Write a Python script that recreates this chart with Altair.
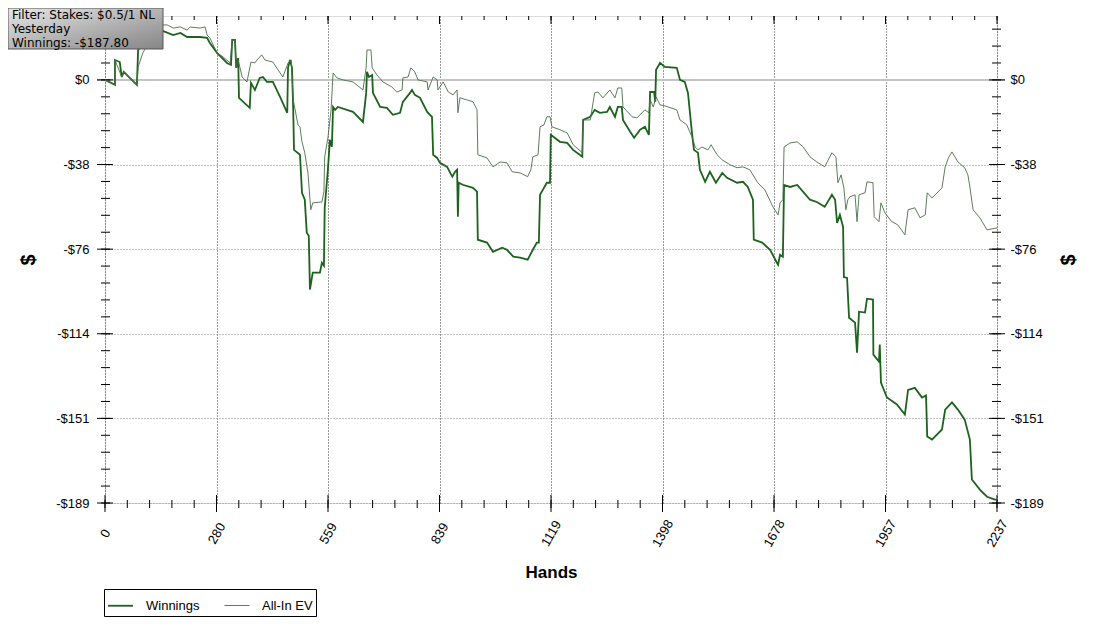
import altair as alt
import pandas as pd

# ---------------- data ----------------
series_names = ["Winnings", "All-In EV"]

win_hands = [0, 25, 25, 37, 42, 47, 80, 83, 93, 108, 138, 151, 171, 189, 206, 238, 256, 263, 281, 306,
             316, 319, 326, 329, 334, 336, 363, 366, 376, 388, 396, 406, 421, 439, 457, 459, 464, 469, 472, 474,
             489, 494, 501, 506, 511, 514, 521, 539, 544, 549, 551, 559, 564, 569, 572, 577, 584, 622, 647, 655,
             657, 662, 670, 672, 690, 707, 722, 740, 747, 765, 770, 777, 790, 808, 820, 823, 833, 840, 858, 871,
             878, 883, 885, 887, 897, 923, 933, 935, 958, 973, 996, 1008, 1024, 1041, 1060, 1073, 1083, 1088, 1091, 1098,
             1108, 1116, 1118, 1141, 1159, 1174, 1197, 1199, 1217, 1228, 1241, 1259, 1266, 1279, 1286, 1296, 1299, 1317, 1327, 1342,
             1354, 1364, 1367, 1377, 1380, 1382, 1392, 1404, 1434, 1442, 1454, 1462, 1472, 1477, 1487, 1492, 1505, 1517, 1532, 1548,
             1560, 1585, 1600, 1612, 1625, 1627, 1648, 1668, 1685, 1688, 1693, 1700, 1703, 1718, 1736, 1751, 1768, 1785, 1805, 1823,
             1831, 1836, 1843, 1851, 1853, 1861, 1866, 1881, 1886, 1891, 1906, 1911, 1926, 1927, 1941, 1943, 1946, 1961, 1986, 2006,
             2014, 2031, 2049, 2059, 2062, 2074, 2099, 2107, 2124, 2139, 2156, 2169, 2174, 2194, 2212, 2232, 2237]
win_values = [0, -2.2, 8.9, 8.0, 1.3, 3.6, -2.2, 13.4, 15.6, 20.1, 22.3, 21.5, 20.1, 21.0, 19.2, 19.2, 18.8, 16.5, 12.1, 7.6,
              6.7, 17.9, 17.9, 5.4, 9.8, -8.0, -12.5, -1.3, -4.5, 0.9, 1.3, -0.9, -0.9, -7.6, -14.7, 5.4, 8.9, 5.4, -13.4, -31.3,
              -33.5, -50.5, -53.6, -68.4, -69.7, -93.8, -86.2, -86.2, -81.8, -83.1, -57.2, -40.2, -26.8, -29.9, -12.1, -13.4, -12.1, -14.3, -18.8, -5.8,
              3.6, 1.3, 2.2, -5.8, -12.1, -12.5, -15.6, -14.7, -9.8, -5.8, -4.5, -6.7, -8.0, -14.3, -16.5, -33.5, -34.9, -37.1, -38.9, -43.3,
              -41.1, -40.2, -61.2, -46.0, -46.9, -48.3, -50.0, -71.5, -72.8, -76.9, -75.1, -76.0, -79.1, -79.5, -80.4, -76.0, -72.8, -72.8, -51.4, -49.2,
              -46.0, -46.0, -24.6, -27.7, -28.2, -31.3, -34.4, -17.9, -16.5, -13.4, -14.7, -14.3, -12.1, -16.5, -12.1, -12.1, -17.9, -23.2, -25.9, -22.3,
              -21.0, -24.6, -5.4, -5.4, -9.8, 4.5, 7.6, 5.8, 5.4, 0.0, -0.9, -5.8, -23.7, -31.3, -32.6, -40.2, -45.6, -41.1, -46.0, -41.6,
              -43.8, -46.0, -45.6, -47.9, -53.6, -71.5, -72.8, -76.0, -81.8, -82.7, -78.2, -79.1, -47.0, -47.9, -47.0, -50.1, -53.6, -54.6, -56.8, -51.4,
              -53.6, -64.0, -60.4, -65.8, -88.2, -88.6, -106.4, -108.6, -122.0, -103.7, -104.1, -97.9, -98.3, -122.9, -126.0, -118.4, -135.4, -142.1, -145.2, -149.7,
              -138.7, -137.8, -142.1, -141.2, -159.5, -160.9, -156.4, -147.5, -144.3, -147.5, -152.0, -160.9, -178.8, -183.3, -186.5, -187.8, -187.8]

ev_hands = [0, 25, 25, 42, 47, 80, 83, 95, 113, 131, 146, 156, 171, 189, 206, 213, 238, 251, 256, 263,
            281, 296, 314, 319, 326, 329, 334, 344, 356, 366, 376, 381, 393, 401, 421, 434, 446, 459, 467, 472,
            484, 489, 494, 501, 509, 516, 521, 544, 549, 551, 559, 567, 572, 582, 597, 622, 647, 655, 657, 667,
            670, 682, 697, 719, 732, 745, 747, 760, 767, 777, 785, 808, 810, 823, 833, 835, 848, 861, 873, 883,
            885, 890, 907, 923, 933, 935, 958, 973, 991, 1008, 1021, 1041, 1060, 1068, 1073, 1086, 1091, 1101, 1108, 1116,
            1121, 1141, 1159, 1174, 1197, 1199, 1217, 1228, 1236, 1249, 1266, 1279, 1286, 1296, 1299, 1322, 1334, 1354, 1364, 1367,
            1375, 1382, 1392, 1404, 1434, 1442, 1459, 1472, 1480, 1487, 1497, 1512, 1520, 1535, 1548, 1568, 1585, 1600, 1617, 1637,
            1655, 1675, 1688, 1693, 1700, 1703, 1718, 1736, 1751, 1768, 1785, 1805, 1823, 1833, 1838, 1846, 1853, 1858, 1863, 1868,
            1881, 1886, 1891, 1906, 1911, 1926, 1929, 1941, 1946, 1956, 1973, 1988, 2006, 2014, 2031, 2044, 2057, 2062, 2074, 2087,
            2099, 2107, 2115, 2124, 2139, 2156, 2164, 2169, 2177, 2194, 2212, 2237]
ev_values = [0, -2.2, 8.9, 1.3, 3.6, -2.2, 5.8, 12.1, 17.9, 22.3, 24.6, 24.6, 23.2, 23.7, 22.3, 23.7, 23.2, 23.7, 20.1, 18.8,
             12.1, 10.3, 7.6, 17.9, 17.9, 5.8, 8.9, 1.3, -0.9, 8.0, 7.6, 8.9, 11.2, 8.9, 8.0, 4.5, 1.3, 7.6, 8.9, -8.9,
             -20.1, -21.0, -27.7, -32.6, -41.6, -58.1, -55.0, -54.6, -50.1, -34.4, -25.9, -13.4, 3.1, 0.9, 0.0, -0.9, -4.5, 5.8, 13.4, 13.4,
             5.4, 2.2, -0.9, -3.1, -5.4, -4.5, 0.9, 1.3, 5.4, 3.6, 0.0, -0.9, -4.5, 1.3, 0.0, -4.5, -0.9, -5.4, -6.7, -4.5,
             -14.7, -8.0, -8.9, -9.8, -13.4, -33.5, -34.9, -38.9, -36.7, -37.1, -41.1, -41.6, -43.3, -40.2, -34.4, -33.5, -21.0, -20.1, -16.5, -16.5,
             -21.0, -22.3, -23.7, -29.0, -32.6, -17.9, -17.9, -5.8, -5.4, -8.0, -4.5, -8.0, -3.6, -3.6, -12.1, -16.5, -17.0, -13.4, -14.7, -8.9,
             -12.1, -7.6, -11.2, -11.6, -13.4, -17.9, -20.1, -25.5, -30.0, -31.3, -30.0, -31.3, -29.0, -33.5, -35.8, -38.0, -39.3, -38.9, -40.2, -46.0,
             -49.2, -56.8, -60.4, -55.0, -53.6, -30.0, -28.2, -27.7, -30.0, -34.4, -36.7, -38.9, -32.6, -34.4, -46.0, -42.5, -48.3, -58.1, -53.6, -52.3,
             -51.4, -63.4, -51.4, -50.5, -45.6, -46.0, -61.2, -63.4, -55.0, -59.5, -63.4, -64.8, -69.3, -58.1, -57.2, -61.7, -60.4, -50.5, -52.8, -50.5,
             -48.3, -38.9, -34.9, -32.2, -36.7, -39.3, -42.5, -47.9, -58.1, -61.7, -67.1, -66.2]

x_max = 2237
y_min, y_max = -189.3, 28.6
y_step = 37.86
x_major = [x_max * k / 8 for k in range(9)]
x_minor = [x_max * k / 40 for k in range(41)]
y_major = [y_min + y_step * k for k in range(6)]
y_minor = [y_min + y_step / 5 * k for k in range(29)]

box_lines = ["Filter: Stakes: $0.5/1 NL", "Yesterday", "Winnings: -$187.80"]

# ---------------- build tables ----------------
rows = []
for name, hs, vs in [(series_names[0], win_hands, win_values), (series_names[1], ev_hands, ev_values)]:
    for i, (h, v) in enumerate(zip(hs, vs)):
        rows.append({"hand": h, "value": v, "series": name, "i": i})
df = pd.DataFrame(rows)

W, H = 892, 487
FONT = "Liberation Sans"
xscale = alt.Scale(domain=[0, x_max], nice=False, zero=False)
yscale = alt.Scale(domain=[y_min, y_max], nice=False, zero=False)
label_expr = "datum.value > -1 ? '$0' : '-$' + format(-datum.value, '.0f')"

x_axis = alt.Axis(values=x_major, format="d", grid=True, gridDash=[1, 2], gridColor="#333333",
                  ticks=False, tickSize=0, domain=False, labelAngle=-60, labelAlign="center",
                  labelBaseline="middle", labelPadding=30, labelFlush=False, labelOverlap=False,
                  labelFont=FONT, labelFontSize=13, labelColor="black",
                  title="Hands", titleFont=FONT, titleFontSize=17, titleFontWeight="bold",
                  titleColor="black", titleY=69, titleBaseline="middle")
y_axis = alt.Axis(values=y_major, labelExpr=label_expr, grid=True, gridDash=[1, 2], gridColor="#8a8a8a",
                  ticks=False, tickSize=0, domain=False, labelPadding=16, labelFlush=False,
                  labelOverlap=False, labelFont=FONT, labelFontSize=13, labelColor="black",
                  title="$", titleFont=FONT, titleFontSize=20, titleFontWeight="bold", titleColor="black",
                  titleAngle=-90, titleX=-77, titleY=H / 2, titleBaseline="middle", titleAlign="center")
y_axis_r = alt.Axis(values=y_major, labelExpr=label_expr, grid=False, orient="right",
                    ticks=False, tickSize=0, domain=False, labelPadding=13, labelFlush=False,
                    labelOverlap=False, labelFont=FONT, labelFontSize=13, labelColor="black",
                    title="$", titleFont=FONT, titleFontSize=20, titleFontWeight="bold", titleColor="black",
                    titleAngle=-90, titleX=71, titleY=H / 2, titleBaseline="middle", titleAlign="center")

# zero line
zero = alt.Chart(pd.DataFrame({"value": [0.0]})).mark_rule(color="#c4c4c4", strokeWidth=2).encode(
    y=alt.Y("value:Q", scale=yscale, axis=y_axis), x=alt.value(-8), x2=alt.value(W + 8))


def ytick(vals, x0, x1):
    return alt.Chart(pd.DataFrame({"value": vals})).mark_rule(color="black", strokeWidth=1).encode(
        y=alt.Y("value:Q", scale=yscale, axis=y_axis), x=alt.value(x0), x2=alt.value(x1))


def xtick(vals, y0, y1):
    return alt.Chart(pd.DataFrame({"hand": vals})).mark_rule(color="black", strokeWidth=1).encode(
        x=alt.X("hand:Q", scale=xscale, axis=x_axis), y=alt.value(y0), y2=alt.value(y1))


ticks = [
    ytick(y_minor, -4, 5), ytick(y_major, -8, 8),
    ytick(y_minor, W - 5, W + 4), ytick(y_major, W - 8, W + 8),
    xtick(x_minor, H - 3, H + 5), xtick(x_major, H - 8, H + 9),
    xtick(x_minor, 0, 4), xtick(x_major, 0, 8),
]

legend = alt.Legend(orient="none", legendX=-1, legendY=573, direction="horizontal", title=None,
                    symbolType="stroke", symbolSize=625, labelFont=FONT, labelFontSize=13,
                    labelColor="black", strokeColor="black", fillColor="white", padding=3,
                    columnPadding=22, labelOffset=12)

lines = alt.Chart(df).mark_line(interpolate="linear").encode(
    x=alt.X("hand:Q", scale=xscale, axis=x_axis),
    y=alt.Y("value:Q", scale=yscale, axis=y_axis),
    color=alt.Color("series:N", scale=alt.Scale(domain=series_names, range=["#1d621d", "#4a6e4a"]),
                    legend=legend, sort=series_names),
    strokeWidth=alt.StrokeWidth("series:N", scale=alt.Scale(domain=series_names, range=[1.8, 0.9]),
                                legend=legend, sort=series_names),
    order="i:Q",
)

inner = alt.layer(zero, *ticks, lines)

right = alt.Chart(df).mark_line(opacity=0).encode(
    x=alt.X("hand:Q", scale=xscale, axis=x_axis),
    y=alt.Y("value:Q", scale=yscale, axis=y_axis_r),
    detail="series:N",
)

one = alt.Data(values=[{"k": 1}])
box = alt.Chart(one).mark_rect(
    fill=alt.Gradient(gradient="linear", x1=0, y1=0, x2=1, y2=1,
                      stops=[alt.GradientStop(offset=0, color="#e6e6e6"),
                             alt.GradientStop(offset=1, color="#858585")]),
    stroke="#555555", strokeWidth=1,
).encode(x=alt.value(-97), x2=alt.value(58), y=alt.value(-8), y2=alt.value(33))

texts = [
    alt.Chart(one).mark_text(align="left", baseline="middle", font="DejaVu Sans", fontSize=12,
                             color="black").encode(x=alt.value(-93), y=alt.value(yy), text=alt.value(t))
    for t, yy in zip(box_lines, [-1, 13, 27])
]

chart = alt.layer(inner, right, box, *texts).resolve_scale(y="independent").properties(
    width=W, height=H,
    autosize=alt.AutoSizeParams(type="none"),
    padding={"left": 97, "top": 8, "right": 95, "bottom": 118},
).configure_view(stroke="black", strokeWidth=1).configure(background="white")

chart.save("out.html", embed_options={"renderer": "svg", "actions": False})
